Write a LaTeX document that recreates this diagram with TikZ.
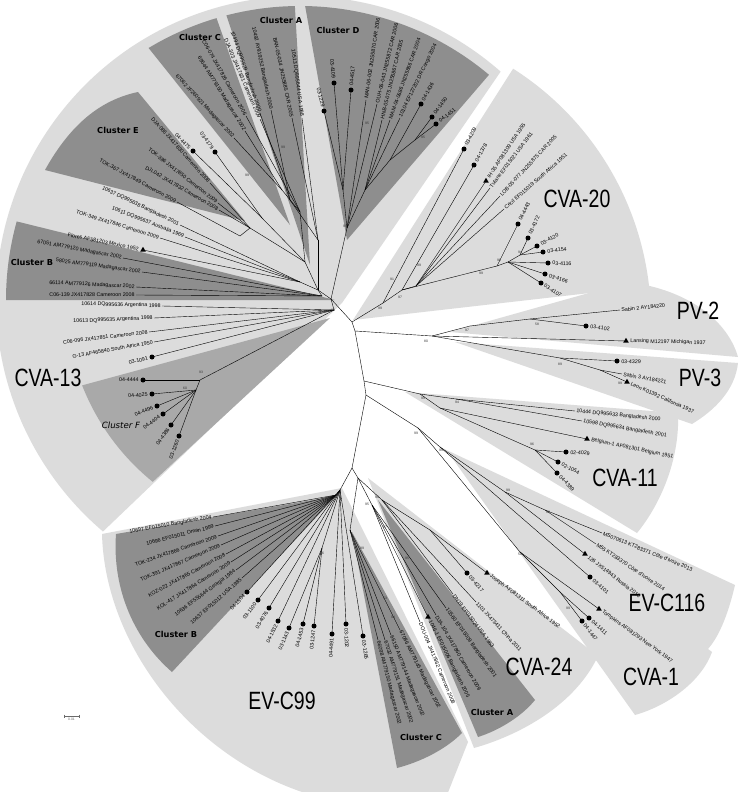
\documentclass[tikz,border=0pt]{standalone}
\usepackage{fontspec}
\setmainfont{Liberation Sans}
\newfontfamily\dejavu{DejaVu Sans}
\usetikzlibrary{calc,shapes.geometric}
\definecolor{grisclaro}{HTML}{DCDCDC}
\definecolor{grisoscuro}{HTML}{8E8E8E}
\definecolor{grismedio}{HTML}{A9A9A9}
\definecolor{gris}{HTML}{6A6A6A}
\def\sinmarca{none}
% hoja: nombre, padre, punta, marca, texto
\newcommand{\hoja}[5]{%
  \coordinate (#1) at (#3);
  \draw[rama] (#2) -- (#1);
  \def\hmarca{#4}%
  \ifx\hmarca\sinmarca\def\hsep{1.2pt}\else\node[#4] (#1-m) at (#1) {};\def\hsep{4.2pt}\fi
  \pgfpointdiff{\pgfpointanchor{#2}{center}}{\pgfpointanchor{#1}{center}}%
  \pgfgetlastxy{\hdx}{\hdy}%
  \pgfmathsetmacro{\hang}{atan2(\hdy,\hdx)}%
  \ifdim\hdx<0pt
    \pgfmathsetmacro{\hrot}{\hang+180}%
    \node[etiq, anchor=east, rotate=\hrot] (#1-t) at ($(#1)!-\hsep!(#2)$) {#5};
  \else
    \node[etiq, anchor=west, rotate=\hang] (#1-t) at ($(#1)!-\hsep!(#2)$) {#5};
  \fi}

\begin{document}
\begin{tikzpicture}[x=1pt, y=-1pt,
    rama/.style={line width=0.4pt, black},
    etiq/.style={inner sep=0pt, font=\fontsize{5.3}{6}\selectfont},
    punto/.style={circle, fill=black, inner sep=0pt, minimum size=5pt},
    triang/.style={regular polygon, regular polygon sides=3, fill=black, inner sep=0pt, minimum size=6.5pt},
    boot/.style={inner sep=0pt, font=\fontsize{3.4}{4}\selectfont, text=black!80},
    clado/.style={inner sep=0pt, xscale=0.78, font=\fontsize{25}{28}\selectfont},
    grupo/.style={inner sep=0pt, font=\dejavu\bfseries\fontsize{8.2}{9}\selectfont}]
  \useasboundingbox (0,0) rectangle (738,792);
  \clip (0,0) rectangle (738,792);
  \fill[white] (0,0) rectangle (738,792);
  \coordinate (Oc) at (300,300);

  % sectores claros de cada genotipo
  \fill[grisclaro] (342,303) -- ($(Oc)+(-48.7:304)$) arc[start angle=-48.7, end angle=-229.6, radius=304] -- cycle;
  \fill[grisclaro] (353,320) -- ++(-57.5:298) arc[start angle=-57.5, end angle=-6.5, radius=298] -- cycle;
  \fill[grisclaro] (450,332) -- (628,282) .. controls (690,290) and (728,322) .. (738,357) -- cycle;
  \fill[grisclaro] (455,342) -- (738,363) .. controls (735,390) and (715,410) .. (692,424) -- cycle;
  \fill[grisclaro] (405,392) -- (678,413) .. controls (680,460) and (660,505) .. (637,533) -- cycle;
  \fill[grisclaro] (440,447) -- (735,585) .. controls (728,615) and (718,640) .. (705,652) -- cycle;
  \fill[grisclaro] (450,455) -- (712,652) .. controls (702,680) and (670,705) .. (635,715) -- cycle;
  \fill[grisclaro] (368,478) -- (598,656) .. controls (575,705) and (520,735) .. (474,748) -- cycle;
  \fill[grisclaro] (342,488) -- (102,534) .. controls (105,650) and (200,770) .. (330,800) -- (445,800) -- (468,742) -- cycle;

  % clusters, gris oscuro
  \fill[grisoscuro] (347,240) -- ($(Oc)+(-89:294)$) arc[start angle=-89, end angle=-50, radius=294] -- cycle;
  \fill[grisoscuro] (310,265) -- ($(Oc)+(-104.5:294)$) arc[start angle=-104.5, end angle=-91, radius=294] -- cycle;
  \fill[grisoscuro] (290,225) -- ($(Oc)+(-121:294)$) arc[start angle=-121, end angle=-106.5, radius=294] -- cycle;
  \fill[grisoscuro] (245,221) -- (45,170) .. controls (70,125) and (100,100) .. (138,92) -- cycle;
  \fill[grisoscuro] (335,300) -- ($(Oc)+(-164.5:294)$) arc[start angle=-164.5, end angle=-180, radius=294] -- cycle;
  \fill[grismedio] (330,318) -- ($(Oc)+(158.6:234)$) arc[start angle=158.6, end angle=129, radius=234] -- cycle;
  \fill[grisoscuro] (336,496) -- (116,534) .. controls (112,590) and (135,640) .. (172,672) -- cycle;
  \fill[grisoscuro] (352,532) -- (397,768) .. controls (420,762) and (445,750) .. (462,733) -- cycle;
  \fill[grisoscuro] (378,500) -- (478,737) .. controls (500,730) and (522,716) .. (535,700) -- cycle;

  % nodos internos
  \coordinate (n0) at (352,322);   \coordinate (nL) at (331,299);
  \coordinate (nD) at (347,228);   \coordinate (nD1) at (343,190);
  \coordinate (nD2) at (365,190);  \coordinate (nD3) at (390,160);
  \coordinate (nD4) at (415,140);  \coordinate (nLa) at (318,290);
  \coordinate (nAt) at (318,240);  \coordinate (nAt2) at (290,200);
  \coordinate (nLb) at (305,262);  \coordinate (nCc) at (300,212);
  \coordinate (nCc2) at (282,190); \coordinate (nE) at (250,228);
  \coordinate (nEb) at (240,236);
  \coordinate (nDot) at (262,218); \coordinate (nLt) at (300,282);
  \coordinate (nB) at (322,296);   \coordinate (nC13) at (334,310);
  \coordinate (nF) at (200,380);   \coordinate (nF2) at (196,390);
  \coordinate (nV1) at (383,303);  \coordinate (nV2) at (402,290);
  \coordinate (nV3) at (416,286);  \coordinate (nV4) at (497,266);
  \coordinate (nV5) at (508,262);  \coordinate (nV6) at (520,255);
  \coordinate (nPVb) at (355,331); \coordinate (nPV) at (432,336);
  \coordinate (nPV2) at (470,326); \coordinate (nPV2b) at (530,319);
  \coordinate (nPV3) at (560,358); \coordinate (nPV3b) at (600,370);
  \coordinate (nM) at (364,381);   \coordinate (nM2) at (366,395);
  \coordinate (nC11) at (420,394); \coordinate (nC11a) at (456,399);
  \coordinate (nC11b) at (440,408); \coordinate (nC11c) at (535,450);
  \coordinate (nEC) at (418,428);  \coordinate (nE1) at (440,447);
  \coordinate (nE2) at (505,492);  \coordinate (nE3) at (545,510);
  \coordinate (nV1c) at (520,552); \coordinate (nV1d) at (560,592);
  \coordinate (nBot) at (352,468); \coordinate (nEV) at (340,490);
  \coordinate (nR) at (358,478);   \coordinate (nBb) at (336,495);
  \coordinate (nEVd) at (322,548);
  \coordinate (nCb) at (350,530);  \coordinate (nAb) at (372,505);
  \coordinate (nV24) at (382,500); \coordinate (nV24b) at (430,530);

  \foreach \a/\b in {n0/nL, nL/nD, nD/nD1, nD/nD2, nD2/nD3, nD3/nD4, nL/nLa,
      nLa/nAt, nAt/nAt2, nLa/nLb, nLb/nCc, nCc/nCc2, nLb/nE, nE/nEb, nLb/nDot, nLa/nLt,
      nLa/nB, nL/nC13, nC13/nF, nF/nF2, n0/nV1, nV1/nV2, nV2/nV3, nV2/nV4,
      nV4/nV5, nV5/nV6, n0/nPVb, nPVb/nPV, nPV/nPV2, nPV2/nPV2b, nPV/nPV3,
      nPV3/nPV3b, nPVb/nM, nM/nM2, nM/nC11, nC11/nC11a, nC11/nC11b, nC11b/nC11c,
      nM2/nEC, nEC/nE1, nE1/nE2, nE2/nE3, nEC/nV1c, nV1c/nV1d, nM2/nBot,
      nBot/nEV, nBot/nR, nEV/nBb, nEV/nEVd, nR/nCb, nR/nAb, nR/nV24,
      nV24/nV24b}
    \draw[rama] (\a) -- (\b);

  % Cluster D
  \hoja{lD1}{nD1}{324,111}{punto}{03-1229}
  \hoja{lD2}{nD1}{334,83}{punto}{03-4109}
  \hoja{lD3}{nD1}{351,90}{punto}{04-4517}
  \hoja{lD4}{nD}{366,100}{none}{MAN-06-002 JN255870 CAR 2006}
  \hoja{lD5}{nD}{377,104}{none}{OUH-06-043 JN255872 CAR 2006}
  \hoja{lD6}{nD2}{382,120}{none}{HNB-05-075 JN255867 CAR 2005}
  \hoja{lD7}{nD2}{390,120}{none}{MAM-04-0686 JN255866 CAR 2004}
  \hoja{lD8}{nD2}{400,118}{none}{10104 EF127202 DR Congo 2004}
  \hoja{lD9}{nD3}{421,104}{punto}{04-1436}
  \hoja{lD10}{nD4}{432,117}{punto}{04-1450}
  \hoja{lD11}{nD4}{436,124}{punto}{04-1451}
  % Cluster A, arriba
  \hoja{lA1}{nAt2}{260,113}{none}{10494 DQ995629 Bangladesh 2000}
  \hoja{lA2}{nAt2}{271,110}{none}{10492 AY919252 Bangladesh 2000}
  \hoja{lA3}{nAt}{292,118}{none}{BAN-05-034 JN255885 CAR 2005}
  \hoja{lA4}{nAt}{302,118}{none}{10513 DQ995644 USA 1998}
  % Cluster C, arriba
  \hoja{lC1}{nCc2}{234,138}{none}{67062 JF260921 Madagascar 2002}
  \hoja{lC2}{nCc2}{245,131}{none}{69544 AM779150 Madagascar 2002}
  \hoja{lC3}{nCc}{246,116}{none}{C06-074 JX417826 Cameroon 2006}
  \hoja{lC4}{nCc}{260,119}{none}{DJA-303 JX417831 Cameroon 2009}
  \hoja{lX1}{nDot}{193,151}{punto}{04-4475}
  \hoja{lX2}{nDot}{215,152}{punto}{03-4179}
  % Cluster E
  \hoja{lE5}{nE}{210,183}{none}{DJA-086 JX417830 Cameroon 2008}
  \hoja{lE6}{nE}{218,203}{none}{TOK-386 JX417850 Cameroon 2009}
  \hoja{lE7}{nE}{219,210}{none}{DJI-042 JX417832 Cameroon 2008}
  \hoja{lE8}{nEb}{177,202}{none}{TOK-367 JX417849 Cameroon 2009}
  \hoja{lY1}{nLt}{180,225}{none}{10637 DQ995638 Bangladesh 2001}
  \hoja{lY2}{nLt}{185,237}{none}{10611 DQ995637 Australia 1969}
  \hoja{lY3}{nLt}{160,238}{none}{TOK-349 JX417846 Cameroon 2009}
  \hoja{lY4}{nLt}{143,250}{triang}{Flores AF581203 Mexico 1952}
  % Cluster B, izquierda
  \hoja{lB1}{nB}{123,258}{none}{67051 AM779120 Madagascar 2002}
  \hoja{lB2}{nB}{142,272}{none}{58025 AM779119 Madagascar 2002}
  \hoja{lB3}{nB}{136,287}{none}{66114 AM779126 Madagascar 2002}
  \hoja{lB4}{nB}{136,295}{none}{C06-139 JX417828 Cameroon 2008}
  % CVA-13 y Cluster F
  \hoja{lQ1}{nC13}{162,306}{none}{10614 DQ995636 Argentina 1998}
  \hoja{lQ2}{nC13}{154,318}{none}{10613 DQ995635 Argentina 1998}
  \hoja{lQ3}{nC13}{149,332}{none}{C06-096 JX417851 Cameroon 2008}
  \hoja{lQ4}{nC13}{154,342}{none}{G-13 AF465840 South Africa 1950}
  \hoja{lQ5}{nC13}{152,357}{punto}{03-1091}
  \hoja{lF1}{nF}{143,380}{punto}{04-4444}
  \hoja{lF2}{nF2}{152,394}{punto}{04-4025}
  \hoja{lF3}{nF2}{157,406}{punto}{04-4496}
  \hoja{lF4}{nF2}{163,414}{punto}{04-4404}
  \hoja{lF5}{nF2}{171,425}{punto}{04-4386}
  \hoja{lF6}{nF2}{179,436}{punto}{03-1260}
  % CVA-20
  \hoja{lW1}{nV1}{464,149}{punto}{03-4209}
  \hoja{lW2}{nV2}{474,165}{punto}{04-1378}
  \hoja{lW3}{nV3}{486,181}{triang}{IH-35 AF081309 USA 1955}
  \hoja{lW4}{nV3}{490,188}{none}{Tulane EF015021 USA 1961}
  \hoja{lW5}{nV3}{500,196}{none}{LOB-05-077 JN255875 CAR 2005}
  \hoja{lW6}{nV3}{504,209}{none}{Cecil EF015019 South Africa 1951}
  \hoja{lW7}{nV4}{518,224}{punto}{04-4443}
  \hoja{lW8}{nV6}{528,238}{punto}{03-4172}
  \hoja{lW9}{nV6}{537,246}{punto}{03-4120}
  \hoja{lW10}{nV6}{543,252}{punto}{03-4154}
  \hoja{lW11}{nV5}{548,263}{punto}{03-4116}
  \hoja{lW12}{nV5}{545,274}{punto}{03-4166}
  \hoja{lW13}{nV5}{541,283}{punto}{03-4107}
  % PV-2 y PV-3
  \hoja{lP1}{nPV2b}{620,310}{none}{Sabin 2 AY184220}
  \hoja{lP2}{nPV2b}{586,326}{punto}{03-4102}
  \hoja{lP3}{nPV}{626,341}{triang}{Lansing M12197 Michigan 1937}
  \hoja{lP4}{nPV3}{617,361}{punto}{03-4329}
  \hoja{lP5}{nPV3b}{622,374}{none}{Sabin 3 AY184221}
  \hoja{lP6}{nPV3b}{627,382}{triang}{Leon K01392 California 1937}
  % CVA-11
  \hoja{lK1}{nC11a}{575,411}{none}{10444 DQ995633 Bangladesh 2000}
  \hoja{lK2}{nC11a}{582,421}{none}{10598 DQ995634 Bangladesh 2001}
  \hoja{lK3}{nC11b}{587,439}{triang}{Belgium-1 AF081301 Belgium 1951}
  \hoja{lK4}{nC11c}{566,452}{punto}{02-4029}
  \hoja{lK5}{nC11c}{558,462}{punto}{02-1054}
  \hoja{lK6}{nC11c}{557,473}{punto}{04-4389}
  % EV-C116 y CVA-1
  \hoja{lU1}{nE3}{602,533}{none}{MS070613 KT283371 Côte d'Ivoire 2013}
  \hoja{lU2}{nE3}{596,544}{none}{M55 KT283370 Côte d'Ivoire 2014}
  \hoja{lU3}{nE2}{585,554}{triang}{126 JX514943 Russia 2010}
  \hoja{lU4}{nE1}{590,577}{punto}{03-4101}
  \hoja{lV1}{nV1c}{599,609}{triang}{Tompkins AF081293 New York 1947}
  \hoja{lV2}{nV1d}{589,618}{punto}{04-1411}
  \hoja{lV3}{nV1d}{582,621}{punto}{04-1447}
  % CVA-24 y Cluster A, abajo
  \hoja{lT1}{nV24b}{467,573}{punto}{03-4217}
  \hoja{lT2}{nV24b}{487,573}{triang}{Joseph AF081311 South Africa 1952}
  \hoja{lT3}{nV24}{476,602}{none}{1101 JX473411 China 2011}
  \hoja{lT4}{nV24}{453,594}{none}{DN19 EF015024 USA 1963}
  \hoja{lAb1}{nAb}{446,608}{none}{10560 EF015009 Bangladesh 2001}
  \hoja{lAb2}{nAb}{436,615}{none}{DJA-104 JX417860 Cameroon 2009}
  \hoja{lAb3}{nAb}{428,617}{triang}{1046-1 EF015006 Bangladesh 2005}
  \hoja{lAb4}{nAb}{420,622}{none}{DOU-004 JX417862 Cameroon 2008}
  % Cluster C, abajo
  \hoja{lCb1}{nCb}{400,630}{none}{67086 AM779145 Madagascar 2002}
  \hoja{lCb2}{nCb}{391,635}{none}{66150 AM779144 Madagascar 2002}
  \hoja{lCb3}{nCb}{385,640}{none}{67032 AM779151 Madagascar 2002}
  \hoja{lCb4}{nCb}{378,640}{none}{66098 AM779150 Madagascar 2002}
  % EV-C99 y Cluster B, abajo
  \hoja{lBb1}{nBb}{213,517}{none}{10697 EF015010 Bangladesh 2004}
  \hoja{lBb2}{nBb}{215,526}{none}{10696 EF015011 Oman 1999}
  \hoja{lBb3}{nBb}{218,536}{none}{TOK-234 JX417866 Cameroon 2009}
  \hoja{lBb4}{nBb}{221,545}{none}{TOK-391 JX417867 Cameroon 2009}
  \hoja{lBb5}{nBb}{226,554}{none}{KOZ-022 JX417865 Cameroon 2008}
  \hoja{lBb6}{nBb}{231,562}{none}{KOL-417 JX417864 Cameroon 2009}
  \hoja{lBb7}{nBb}{236,570}{none}{10636 EF555644 Georgia 1984}
  \hoja{lBb8}{nBb}{242,578}{none}{10637 EF015012 USA 1985}
  \hoja{lEV1}{nEV}{247,592}{punto}{04-1504}
  \hoja{lEV2}{nEV}{258,600}{punto}{03-1100}
  \hoja{lEV3}{nEV}{269,608}{punto}{03-4076}
  \hoja{lEV4}{nEV}{278,621}{punto}{04-1532}
  \hoja{lEV5}{nEVd}{289,628}{punto}{03-1143}
  \hoja{lEV6}{nEVd}{303,624}{punto}{04-1453}
  \hoja{lEV7}{nEVd}{314,626}{punto}{03-1247}
  \hoja{lEV8}{nEV}{332,634}{punto}{04-4491}
  \hoja{lEV9}{nEV}{346,624}{punto}{03-1202}
  \hoja{lEV10}{nEV}{363,636}{punto}{03-1265}

  % valores de bootstrap
  \foreach \x/\y/\v [count=\i] in {345/226/99, 333/310/96, 380/308/99, 400/297/97,
      392/279/91, 419/265/99, 481/273/99, 499/260/96, 520/252/94, 423/137/95,
      426/341/80, 467/330/97, 537/324/58, 560/364/89, 620/383/99, 423/398/99,
      457/402/94, 416/433/99, 441/450/99, 532/444/96, 508/490/99, 548/512/99,
      520/554/50, 568/608/99, 322/553/96, 377/497/99, 367/504/95, 385/527/87,
      407/558/95, 362/548/99, 385/598/53, 393/617/94, 201/372/93, 185/388/60,
      247/175/99, 283/147/99, 367/123/95}
    \node[boot] (bs\i) at (\x,\y) {\v};

  % nombres de genotipos y clusters
  \node[clado] (lblCVA20) at (577,199) {CVA-20};
  \node[clado] (lblPV2) at (698,311) {PV-2};
  \node[clado] (lblPV3) at (700,378) {PV-3};
  \node[clado] (lblCVA11) at (625,478) {CVA-11};
  \node[clado] (lblEVC116) at (667,603) {EV-C116};
  \node[clado] (lblCVA1) at (651,677) {CVA-1};
  \node[clado] (lblCVA24) at (539,667) {CVA-24};
  \node[clado] (lblEVC99) at (282,701) {EV-C99};
  \node[clado] (lblCVA13) at (48,378) {CVA-13};
  \node[grupo] (clD) at (338,30) {Cluster D};
  \node[grupo] (clA) at (281,20) {Cluster A};
  \node[grupo] (clC) at (200,37) {Cluster C};
  \node[grupo] (clE) at (118,130) {Cluster E};
  \node[grupo] (clBt) at (32,262) {Cluster B};
  \node[grupo] (clBb) at (176,634) {Cluster B};
  \node[grupo] (clCb) at (421,737) {Cluster C};
  \node[grupo] (clAb) at (492,712) {Cluster A};
  \node[inner sep=0pt, font=\dejavu\itshape\fontsize{8.6}{9}\selectfont] (clF) at (121,425) {Cluster F};

  % barra de escala
  \coordinate (esc0) at (64,716);
  \coordinate (esc1) at (79,716);
  \draw[gris, line width=0.5pt] (esc0) -- (esc1);
  \draw[gris, line width=0.5pt] ($(esc0)+(0,-1.5)$) -- ($(esc0)+(0,1.5)$) ($(esc1)+(0,-1.5)$) -- ($(esc1)+(0,1.5)$);
  \node[boot, text=gris, below=1.5pt] (escT) at ($(esc0)!0.5!(esc1)$) {0.01};
\end{tikzpicture}
\end{document}
